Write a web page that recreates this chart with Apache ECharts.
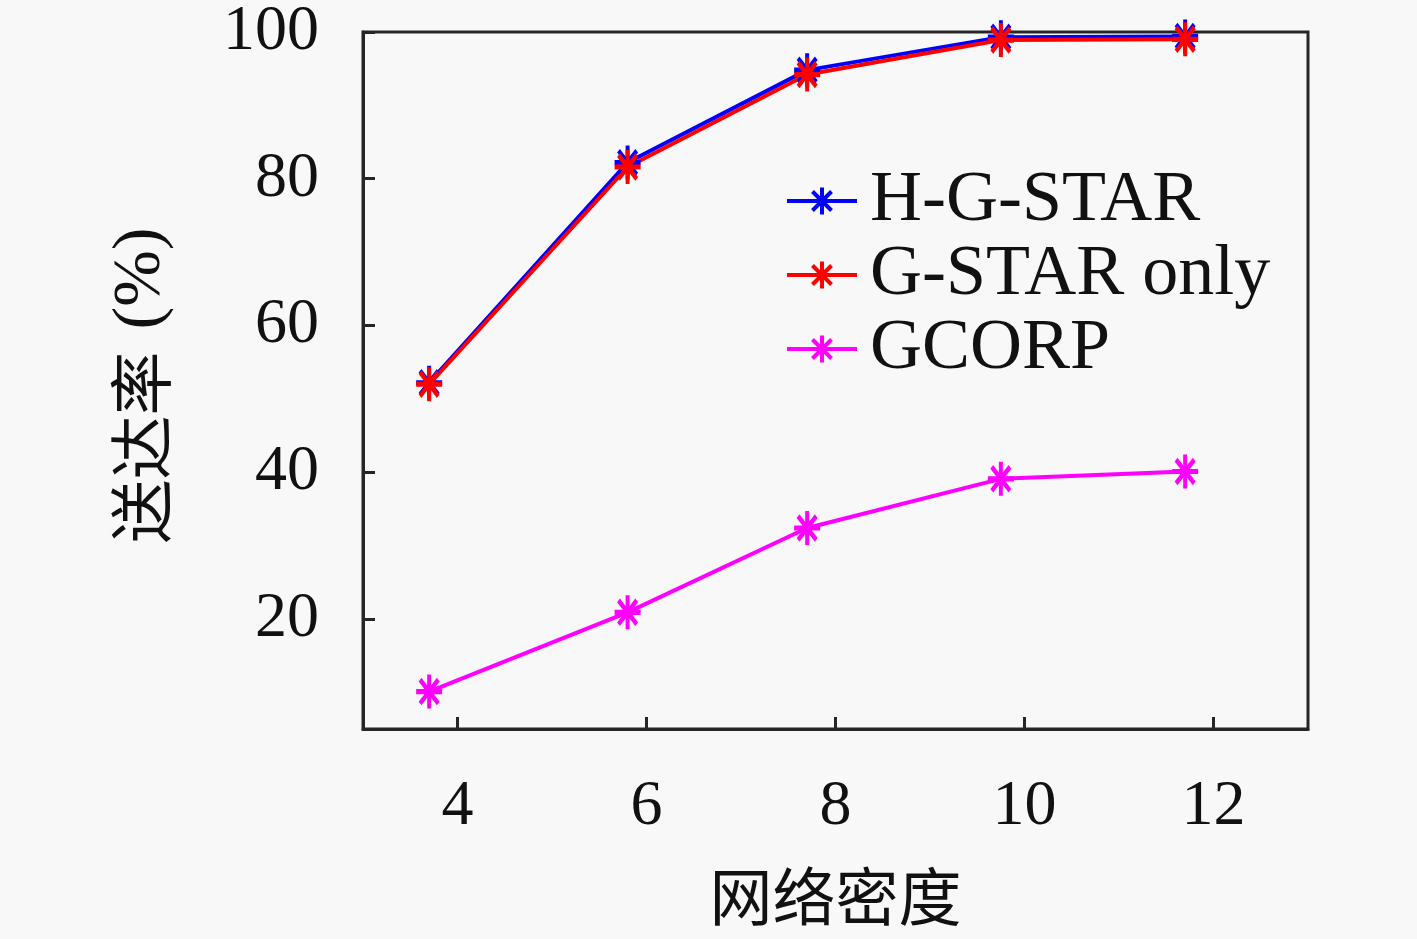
<!DOCTYPE html>
<html>
<head>
<meta charset="utf-8">
<script src="https://cdn.jsdelivr.net/npm/echarts@6/dist/echarts.min.js"></script>
<style>
    html, body { margin: 0; padding: 0; background: #f8f8f8; }
    #grafico { width: 1417px; height: 939px; }
</style>
</head>
<body>
<div id="grafico"></div>
<script>
// Datos
const density = [3.7, 5.8, 7.7, 9.75, 11.7];
const hgStar = [52.2, 82.2, 94.8, 99.3, 99.4];
const gStarOnly = [52.0, 81.6, 94.2, 98.9, 99.0];
const gcorp = [10.1, 20.9, 32.4, 39.1, 40.1];

const xTicks = [4, 6, 8, 10, 12];
const yTicks = [20, 40, 60, 80, 100];

const seriesNames = ['H-G-STAR', 'G-STAR only', 'GCORP'];
const seriesColors = ['#0000ff', '#ff0000', '#ff00ff'];

// Marcador tipo asterisco (como '*' de MATLAB)
const asterisk = 'path://M0,-10L0,10M-10,0L10,0M-7,-7L7,7M-7,7L7,-7';
const serif = 'Liberation Serif';

const chart = echarts.init(document.getElementById('grafico'));

function makeSeries(name, values, color) {
    return {
        name: name,
        type: 'line',
        data: density.map((x, i) => [x, values[i]]),
        symbol: asterisk,
        symbolSize: [26, 34],
        lineStyle: { color: color, width: 4 },
        itemStyle: { color: 'none', borderColor: color, borderWidth: 4.5 },
        emphasis: { disabled: true }
    };
}

const option = {
    backgroundColor: '#f8f8f8',
    animation: false,
    grid: {
        left: 363, top: 32, right: 109, bottom: 210,
        show: true, borderColor: '#262626', borderWidth: 3,
        backgroundColor: 'transparent'
    },
    legend: {
        orient: 'vertical',
        left: 785,
        top: 164,
        padding: 0,
        itemWidth: 70,
        itemHeight: 34,
        itemGap: 0,
        lineStyle: { width: 4 },
        itemStyle: { borderWidth: 4 },
        textStyle: {
            fontFamily: serif, fontSize: 72, color: '#111',
            lineHeight: 74, padding: [0, 0, 0, 8]
        },
        data: seriesNames
    },
    xAxis: {
        type: 'value',
        min: 3,
        max: 13,
        name: '网络密度',
        nameLocation: 'middle',
        nameGap: 136,
        nameTextStyle: { fontFamily: 'Noto Sans CJK SC', fontSize: 63, color: '#111' },
        axisLine: { lineStyle: { color: '#262626', width: 3 } },
        axisTick: { inside: true, length: 12, customValues: xTicks, lineStyle: { color: '#262626', width: 3 } },
        axisLabel: { customValues: xTicks, margin: 46, fontFamily: serif, fontSize: 64, color: '#111' },
        splitLine: { show: false }
    },
    yAxis: {
        type: 'value',
        min: 5,
        max: 100,
        name: '{cn|送达率}{lt|(%)}',
        nameLocation: 'middle',
        nameRotate: 90,
        nameGap: 188,
        nameTextStyle: {
            color: '#111',
            padding: [0, 0, 0, -10],
            rich: {
                cn: { fontFamily: 'Noto Sans CJK SC', fontSize: 64, color: '#111' },
                lt: { fontFamily: serif, fontSize: 68, color: '#111', padding: [0, 0, 0, 22] }
            }
        },
        axisLine: { lineStyle: { color: '#262626', width: 3 } },
        axisTick: { inside: true, length: 12, customValues: yTicks, lineStyle: { color: '#262626', width: 3 } },
        axisLabel: { customValues: yTicks, margin: 44, fontFamily: serif, fontSize: 64, color: '#111' },
        splitLine: { show: false }
    },
    series: [
        makeSeries(seriesNames[0], hgStar, seriesColors[0]),
        makeSeries(seriesNames[1], gStarOnly, seriesColors[1]),
        makeSeries(seriesNames[2], gcorp, seriesColors[2])
    ]
};

chart.setOption(option);
</script>
</body>
</html>
